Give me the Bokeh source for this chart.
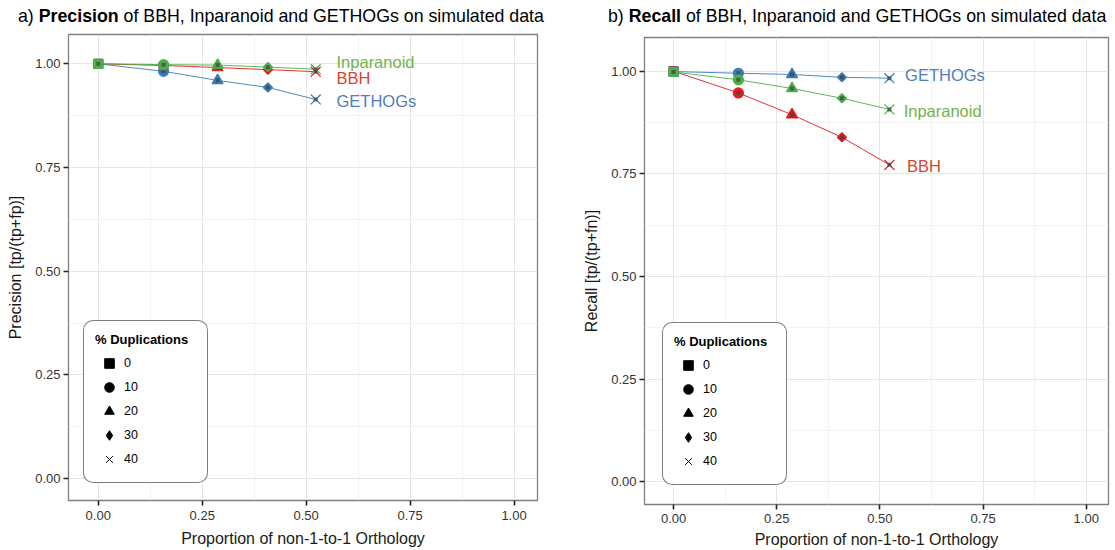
import math
from bokeh.plotting import figure
from bokeh.layouts import row, column
from bokeh.models import (Legend, LegendItem, FixedTicker, Range1d, Div,
                          ColumnDataSource, NumeralTickFormatter)
from bokeh.transform import factor_mark
from bokeh.core.properties import value
from bokeh.embed import file_html
from bokeh.resources import INLINE

FONT = "Liberation Sans"

# ---------------- data ----------------
methods = ["BBH", "GETHOGs", "Inparanoid"]
dup_levels = ["0", "10", "20", "30", "40"]
non_1to1 = [0.0, 0.157, 0.287, 0.408, 0.523]

precision_bbh = [1.000, 0.996, 0.991, 0.986, 0.981]
precision_gethogs = [1.000, 0.982, 0.960, 0.943, 0.914]
precision_inparanoid = [1.000, 0.998, 0.997, 0.992, 0.987]

recall_bbh = [1.000, 0.947, 0.894, 0.839, 0.772]
recall_gethogs = [0.999, 0.995, 0.992, 0.985, 0.983]
recall_inparanoid = [0.998, 0.979, 0.958, 0.934, 0.907]

axis_ticks = [0.0, 0.25, 0.5, 0.75, 1.0]
axis_minor = [0.125, 0.375, 0.625, 0.875]

# ---------------- styles ----------------
point_color = {"BBH": "#e41a1c", "GETHOGs": "#377eb8", "Inparanoid": "#4daf4a"}
text_color = {"BBH": "#d24632", "GETHOGs": "#507dbe", "Inparanoid": "#74b24e"}
PLOT_MARKERS = ["square", "circle", "triangle", "square", "x"]
PLOT_ANGLES = {"0": 0.0, "10": 0.0, "20": 0.0, "30": math.pi / 4, "40": 0.0}
PLOT_SIZES = {"0": 9, "10": 10, "20": 11, "30": 6.5, "40": 14}
LEGEND_MARKERS = ["square", "circle", "triangle", "diamond", "x"]


def title_div(width, height, prefix, bold, pad_left, pad_top):
    html = (f'<div style="white-space:nowrap;font-family:\'{FONT}\';'
            f'font-size:17.75px;line-height:1;color:#000;'
            f'padding-left:{pad_left}px;padding-top:{pad_top}px">'
            f'{prefix} <b>{bold}</b> of BBH, Inparanoid and GETHOGs on simulated data</div>')
    return Div(text=html, width=width, height=height, margin=0)


def make_panel(series, ylab, width, height, mb_left, mb_right, mb_bottom,
               xr, yr, x_lab_standoffs):
    p = figure(width=width, height=height, output_backend="svg",
               toolbar_location=None, title=None,
               x_range=Range1d(*xr), y_range=Range1d(*yr),
               min_border_left=mb_left, min_border_right=mb_right,
               min_border_top=2, min_border_bottom=mb_bottom,
               background_fill_color="white", border_fill_color="white")
    p.outline_line_color = "#7f7f7f"
    p.outline_line_width = 1.3

    for ax in (p.xaxis[0], p.yaxis[0]):
        ax.ticker = FixedTicker(ticks=axis_ticks, minor_ticks=axis_minor)
        ax.formatter = NumeralTickFormatter(format="0.00")
        ax.axis_line_color = None
        ax.major_tick_out = 5
        ax.major_tick_in = 0
        ax.minor_tick_out = 0
        ax.minor_tick_in = 0
        ax.major_tick_line_color = "#222222"
        ax.major_tick_line_width = 1.6
        ax.major_label_text_font = FONT
        ax.major_label_text_font_size = "13px"
        ax.major_label_text_color = "#333333"
        ax.axis_label_text_font = FONT
        ax.axis_label_text_font_size = "16px"
        ax.axis_label_text_font_style = "normal"
        ax.axis_label_text_color = "#1a1a1a"
    p.xaxis.axis_label = "Proportion of non-1-to-1 Orthology"
    p.yaxis.axis_label = ylab
    p.yaxis.major_label_standoff = 3
    p.yaxis.axis_label_standoff = 8
    p.xaxis.major_label_standoff = x_lab_standoffs[0]
    p.xaxis.axis_label_standoff = x_lab_standoffs[1]

    for g in (p.xgrid[0], p.ygrid[0]):
        g.grid_line_color = "#e6e6e6"
        g.grid_line_width = 1
        g.minor_grid_line_color = "#f3f3f3"
        g.minor_grid_line_width = 1

    # lines
    for m in methods:
        p.line(non_1to1, series[m], line_color=point_color[m], line_width=1,
               line_alpha=0.9)
    # points
    for m in methods:
        src = ColumnDataSource(dict(x=non_1to1, y=series[m], dup=dup_levels,
                                    size=[PLOT_SIZES[d] for d in dup_levels],
                                    angle=[PLOT_ANGLES[d] for d in dup_levels]))
        p.scatter("x", "y", source=src, size="size", angle="angle",
                  marker=factor_mark("dup", PLOT_MARKERS, dup_levels),
                  fill_color=point_color[m], line_color=point_color[m],
                  line_width=1.2)
        p.scatter("x", "y", source=src, marker="square", size=4,
                  fill_color="#454545", line_color=None, fill_alpha=0.75)

    # legend (black shapes); NaN data -> nothing drawn in the plot area
    items = []
    nan = float("nan")
    for d, mk in zip(dup_levels, LEGEND_MARKERS):
        r = p.scatter(x=[nan], y=[nan], marker=mk, size=10,
                      fill_color="black", line_color="black", line_width=1)
        items.append(LegendItem(label=d, renderers=[r]))
    kw = {}
    if "border_radius" in Legend.properties():
        kw["border_radius"] = 10
    leg = Legend(items=items, title="% Duplications", margin=0, padding=11,
                 spacing=0, glyph_width=28, glyph_height=24, label_height=20,
                 label_width=72, label_standoff=1, title_standoff=4,
                 title_text_font=FONT, title_text_font_size="13px",
                 title_text_font_style="bold", title_text_color="black",
                 label_text_font=FONT, label_text_font_size="12.5px",
                 label_text_color="black",
                 border_line_color="black", border_line_width=1.5,
                 background_fill_color="white", background_fill_alpha=1.0, **kw)
    p.add_layout(leg)
    return p, leg


def add_method_labels(p, xs, ys):
    for m in methods:
        p.text(x=[xs[m]], y=[ys[m]], text=[m], text_font=value(FONT),
               text_font_size="16.5px", text_color=text_color[m],
               text_align="left", text_baseline="middle")


# ---------------- panel a: precision ----------------
precision = {"BBH": precision_bbh, "GETHOGs": precision_gethogs,
             "Inparanoid": precision_inparanoid}
t1 = title_div(566, 32, "a)", "Precision", 18, 7.6)
p1, leg1 = make_panel(precision, "Precision [tp/(tp+fp)]", 566, 518, 68, 29, 50,
                      (-0.0716, 1.0564), (-0.053, 1.0707), (5, 7))
leg1.location = (15, 17)
add_method_labels(p1, {"BBH": 0.573, "GETHOGs": 0.573, "Inparanoid": 0.573},
                  {"BBH": 0.966, "GETHOGs": 0.910, "Inparanoid": 1.0055})

# ---------------- panel b: recall ----------------
recall = {"BBH": recall_bbh, "GETHOGs": recall_gethogs,
          "Inparanoid": recall_inparanoid}
t2 = title_div(549, 35, "b)", "Recall", 42, 7.6)
p2, leg2 = make_panel(recall, "Recall [tp/(tp+fn)]", 549, 515, 78, 7, 46,
                      (-0.0705, 1.054), (-0.055, 1.082), (4, 5))
leg2.location = (18, 19)
add_method_labels(p2, {"BBH": 0.5655, "GETHOGs": 0.561, "Inparanoid": 0.5575},
                  {"BBH": 0.770, "GETHOGs": 0.990, "Inparanoid": 0.904})

layout = row(column(t1, p1), column(t2, p2))
open("out.html", "w").write(file_html(layout, INLINE))
